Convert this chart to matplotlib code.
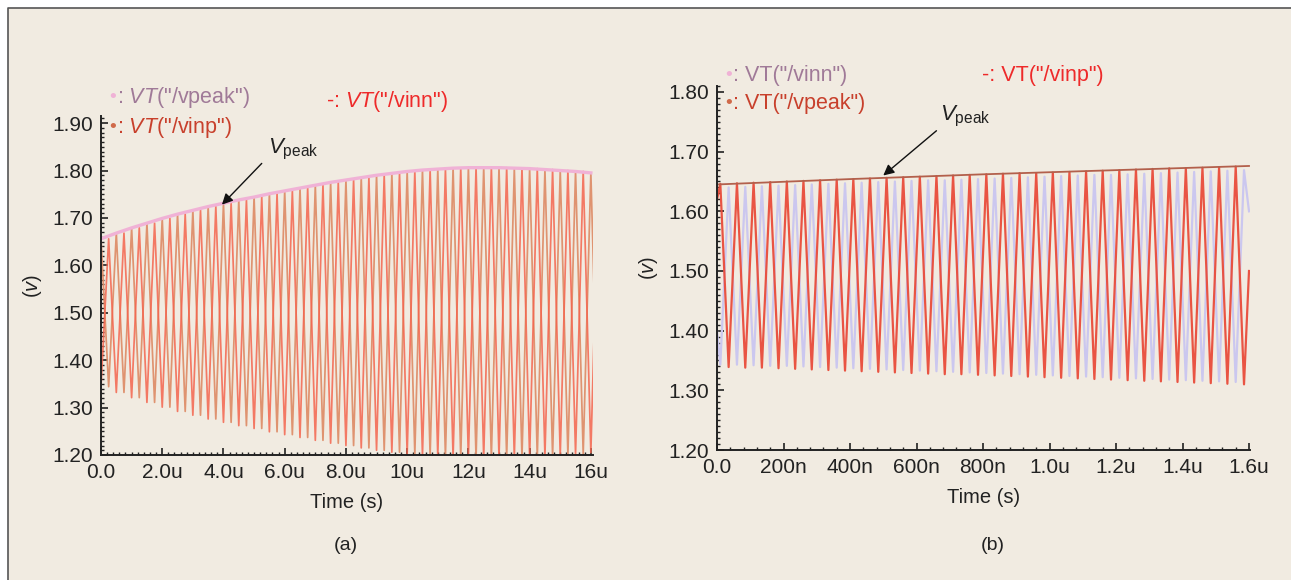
import matplotlib.pyplot as plt
from matplotlib.ticker import MultipleLocator, FixedLocator, FixedFormatter
from matplotlib.patches import Rectangle
from matplotlib.lines import Line2D

plt.rcParams['font.family'] = ['Liberation Sans', 'DejaVu Sans']
plt.rcParams['mathtext.fontset'] = 'custom'
plt.rcParams['mathtext.rm'] = 'Liberation Sans'
plt.rcParams['mathtext.it'] = 'Liberation Sans:italic'

# ---- panel (a): 0..16 us, one cycle every 0.5 us ----
a_period = 0.5
a_upper = [1.656, 1.668, 1.679, 1.689, 1.699, 1.708, 1.716, 1.724, 1.731, 1.738,
           1.744, 1.751, 1.757, 1.763, 1.769, 1.775, 1.780, 1.785, 1.790, 1.794,
           1.798, 1.801, 1.803, 1.805, 1.806, 1.806, 1.806, 1.805, 1.804, 1.802,
           1.800, 1.798, 1.795]
# trough values (lower envelope), one per cycle
a_lower = [1.344, 1.332, 1.321, 1.311, 1.301, 1.292, 1.284, 1.276, 1.269, 1.262,
           1.256, 1.249, 1.243, 1.237, 1.231, 1.225, 1.220, 1.215, 1.210, 1.206,
           1.202, 1.199, 1.197, 1.195, 1.194, 1.194, 1.194, 1.195, 1.196, 1.198,
           1.200, 1.202, 1.205]
a_xticks = [0, 2, 4, 6, 8, 10, 12, 14, 16]
a_xlabels = ['0.0', '2.0u', '4.0u', '6.0u', '8.0u', '10u', '12u', '14u', '16u']
a_yticks = [1.2, 1.3, 1.4, 1.5, 1.6, 1.7, 1.8, 1.9]

# ---- panel (b): 0..1.6 us, one cycle every 50 ns ----
b_period = 0.05
b_first = 0.01
# vinp (red) peaks / troughs
b_vinp_peak = [1.646, 1.647, 1.648, 1.649, 1.650, 1.651, 1.652, 1.653, 1.654, 1.655,
               1.656, 1.657, 1.658, 1.659, 1.660, 1.661, 1.662, 1.663, 1.664, 1.664,
               1.665, 1.666, 1.667, 1.668, 1.669, 1.670, 1.671, 1.672, 1.672, 1.673,
               1.674, 1.675]
b_vinp_trough = [1.339, 1.338, 1.338, 1.337, 1.336, 1.335, 1.334, 1.333, 1.332, 1.331,
                 1.330, 1.329, 1.328, 1.327, 1.327, 1.326, 1.325, 1.324, 1.323, 1.322,
                 1.321, 1.320, 1.319, 1.318, 1.317, 1.316, 1.315, 1.314, 1.313, 1.312,
                 1.311, 1.310]
b_vinp_ends = [1.62, 1.50]
# vinn (lavender) peaks / troughs, opposite phase
b_vinn_peak = [1.640, 1.641, 1.642, 1.643, 1.644, 1.645, 1.646, 1.647, 1.648, 1.649,
               1.650, 1.651, 1.652, 1.652, 1.653, 1.654, 1.655, 1.656, 1.657, 1.658,
               1.659, 1.660, 1.661, 1.661, 1.662, 1.663, 1.664, 1.665, 1.666, 1.667,
               1.668, 1.669]
b_vinn_trough = [1.343, 1.342, 1.341, 1.341, 1.340, 1.339, 1.338, 1.337, 1.336, 1.335,
                 1.334, 1.333, 1.332, 1.331, 1.330, 1.329, 1.328, 1.327, 1.326, 1.325,
                 1.324, 1.323, 1.322, 1.321, 1.320, 1.319, 1.318, 1.317, 1.316, 1.315,
                 1.314, 1.313]
b_vinn_ends = [1.40, 1.60]
b_vpeak_t = [0.0, 0.4, 0.8, 1.2, 1.6]
b_vpeak = [1.645, 1.654, 1.662, 1.669, 1.676]
b_xticks = [0, 0.2, 0.4, 0.6, 0.8, 1.0, 1.2, 1.4, 1.6]
b_xlabels = ['0.0', '200n', '400n', '600n', '800n', '1.0u', '1.2u', '1.4u', '1.6u']
b_yticks = [1.2, 1.3, 1.4, 1.5, 1.6, 1.7, 1.8]


def zigzag(first, period, highs, lows):
    # alternate high at each cycle start, low half a period later
    t, v = [], []
    for k in range(len(highs)):
        t.append(first + k * period)
        v.append(highs[k])
        t.append(first + k * period + period / 2)
        v.append(lows[k])
    return t, v


def style_axes(ax, xticks, xlabels, yticks, xminor, yminor):
    for s in ['top', 'right']:
        ax.spines[s].set_visible(False)
    for s in ['left', 'bottom']:
        ax.spines[s].set_linewidth(1.4)
        ax.spines[s].set_color('#222222')
    ax.set_facecolor('none')
    ax.xaxis.set_major_locator(FixedLocator(xticks))
    ax.xaxis.set_major_formatter(FixedFormatter(xlabels))
    ax.yaxis.set_major_locator(FixedLocator(yticks))
    ax.yaxis.set_major_formatter(FixedFormatter(['%.2f' % y for y in yticks]))
    ax.xaxis.set_minor_locator(MultipleLocator(xminor))
    ax.yaxis.set_minor_locator(MultipleLocator(yminor))
    ax.tick_params(which='both', direction='in', colors='#222222', labelsize=15, pad=6)
    ax.tick_params(which='major', length=5, width=1.2)
    ax.tick_params(which='minor', length=2.5, width=1.0)
    ax.set_xlabel('Time (s)', fontsize=14.5, color='#222222', labelpad=8)
    ax.set_ylabel('$(\\mathit{v})$', fontsize=14.5, color='#222222', labelpad=6)


def vpeak_label(ax, tip, tail, pos):
    ax.annotate('', xy=tip, xytext=tail,
                arrowprops=dict(arrowstyle='-|>', color='#111111', lw=1.0,
                                mutation_scale=16, shrinkA=0, shrinkB=0))
    ax.text(pos[0], pos[1], '$V_{\\mathrm{peak}}$', fontsize=16, color='#222222',
            ha='left', va='bottom')


fig = plt.figure(figsize=(12.91, 5.80), dpi=100, facecolor='white')
fig.add_artist(Rectangle((8 / 1291, 0), 1283 / 1291, 572 / 580, transform=fig.transFigure,
                         facecolor='#f1ebe1', edgecolor='none', zorder=-10))
fig.add_artist(Line2D([8 / 1291, 8 / 1291, 1.0], [0, 572 / 580, 572 / 580],
                      transform=fig.transFigure, color='#555555', lw=1.2))

# ---------- (a) ----------
axa = fig.add_axes([101 / 1291, 125 / 580, 492 / 1291, 339 / 580])
t, v = zigzag(0.0, a_period, a_upper, a_lower)
axa.plot(t, v, color='#de8e6a', lw=1.25, alpha=0.95)
t, v = zigzag(0.0, a_period, a_lower, a_upper)
axa.plot(t, v, color='#f4654e', lw=1.25, alpha=0.85)
a_t = [k * a_period for k in range(len(a_upper))]
axa.plot(a_t, a_upper, color='#f0b2d6', lw=2.4)
axa.set_xlim(0, 16.07)
axa.set_ylim(1.20, 1.915)
style_axes(axa, a_xticks, a_xlabels, a_yticks, 0.2, 0.01)
vpeak_label(axa, (3.95, 1.728), (5.25, 1.815), (5.45, 1.818))

fig.text(109 / 1291, 1 - 98 / 580, '•', color='#f0b2d6', fontsize=14, va='center')
fig.text(117 / 1291, 1 - 98 / 580, ': $VT$("/vpeak")', color='#a07a98', fontsize=15.5, va='center')
fig.text(109 / 1291, 1 - 127 / 580, '•', color='#d06a4a', fontsize=14, va='center')
fig.text(117 / 1291, 1 - 127 / 580, ': $VT$("/vinp")', color='#c8402c', fontsize=15.5, va='center')
fig.text(326 / 1291, 1 - 102 / 580, '-: $VT$("/vinn")', color='#ee2a2a', fontsize=15.5, va='center')
fig.text(346 / 1291, 1 - 545 / 580, '(a)', fontsize=14, color='#222222', ha='center', va='center')

# ---------- (b) ----------
axb = fig.add_axes([717 / 1291, 130 / 580, 533 / 1291, 364 / 580])
t, v = zigzag(b_first + b_period / 2, b_period, b_vinn_peak, b_vinn_trough)
t = [0.0, b_first] + t[:-1] + [1.6]
v = [b_vinn_ends[0], b_vinn_trough[0]] + v[:-1] + [b_vinn_ends[1]]
axb.plot(t, v, color='#cbc7ef', lw=1.6)
t, v = zigzag(b_first, b_period, b_vinp_peak, b_vinp_trough)
t = [0.0] + t + [1.6]
v = [b_vinp_ends[0]] + v + [b_vinp_ends[1]]
axb.plot(t, v, color='#e94c3a', lw=1.6, alpha=0.95)
axb.plot(b_vpeak_t, b_vpeak, color='#b3604c', lw=1.3)
axb.set_xlim(0, 1.603)
axb.set_ylim(1.20, 1.81)
style_axes(axb, b_xticks, b_xlabels, b_yticks, 0.04, 0.01)
vpeak_label(axb, (0.50, 1.660), (0.66, 1.735), (0.67, 1.738))

fig.text(725 / 1291, 1 - 76 / 580, '•', color='#f0b2d6', fontsize=14, va='center')
fig.text(733 / 1291, 1 - 76 / 580, ': VT("/vinn")', color='#a07a98', fontsize=15.5, va='center')
fig.text(725 / 1291, 1 - 103 / 580, '•', color='#d06a4a', fontsize=14, va='center')
fig.text(733 / 1291, 1 - 103 / 580, ': VT("/vpeak")', color='#c8402c', fontsize=15.5, va='center')
fig.text(982 / 1291, 1 - 75 / 580, '-: VT("/vinp")', color='#ee2a2a', fontsize=15.5, va='center')
fig.text(993 / 1291, 1 - 545 / 580, '(b)', fontsize=14, color='#222222', ha='center', va='center')

fig.savefig('out.png', dpi=100, facecolor='white')
